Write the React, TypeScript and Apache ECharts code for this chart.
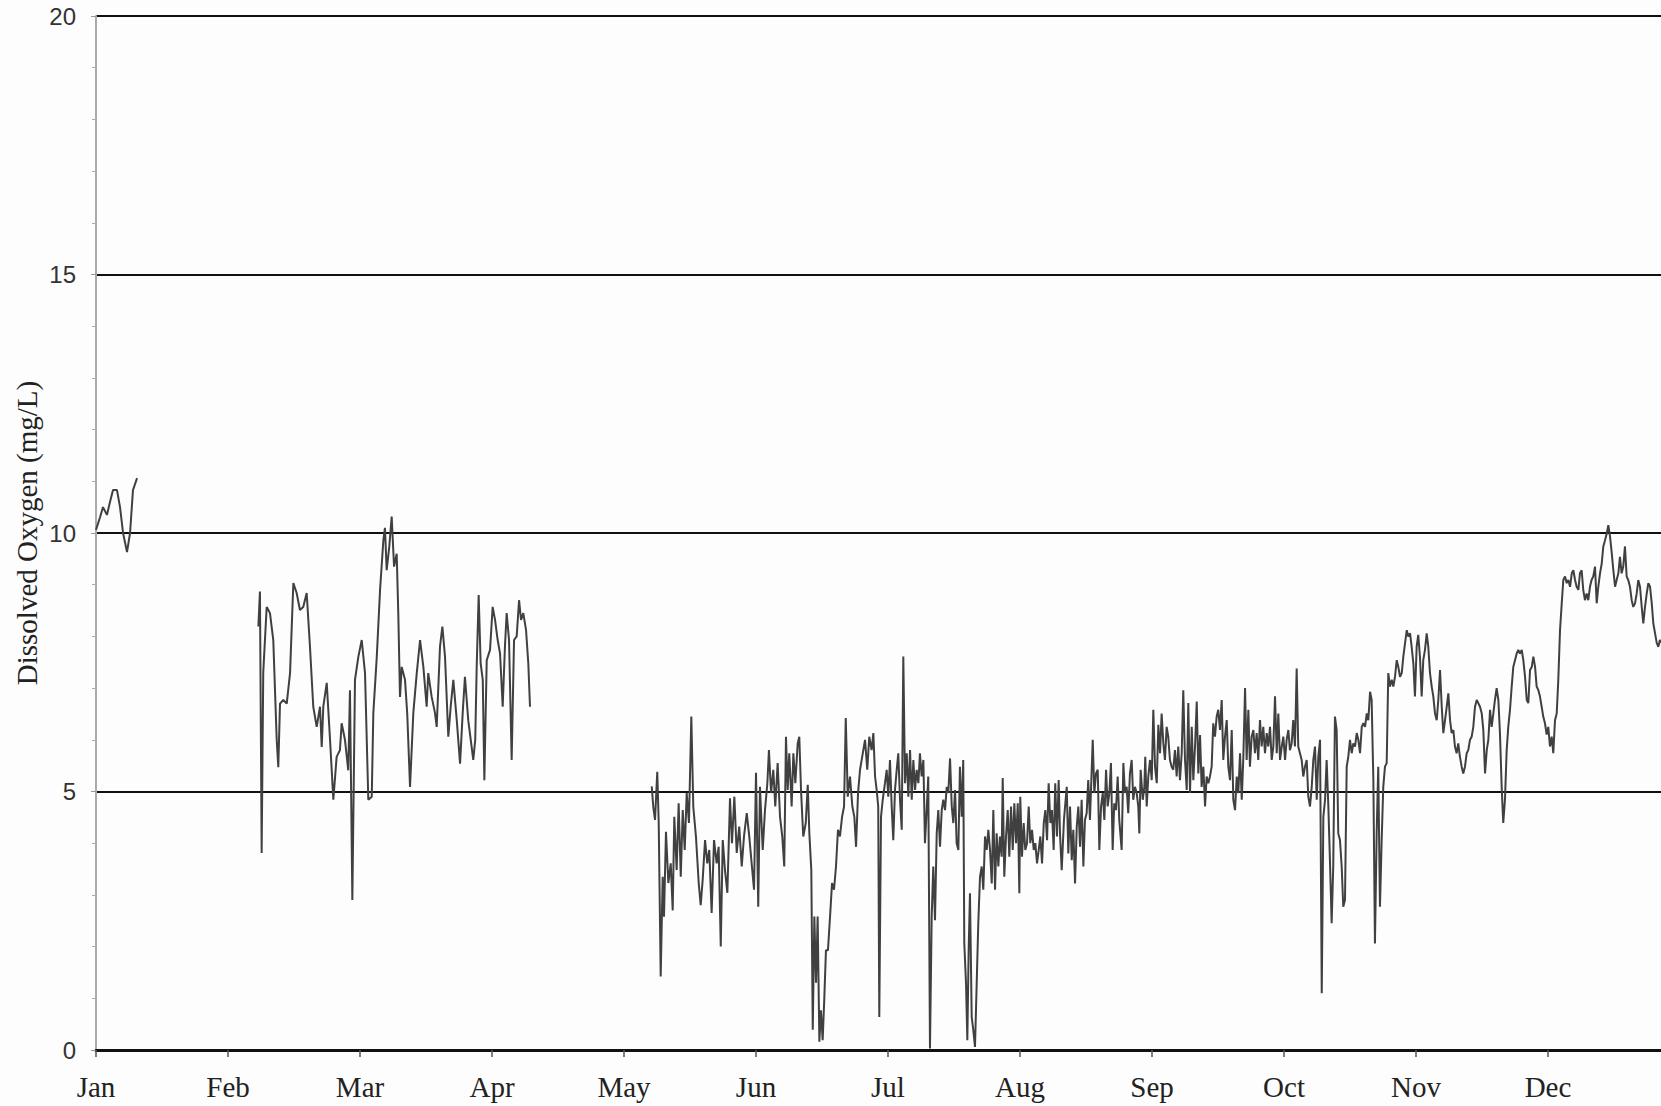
import React, { useEffect, useRef } from "react";
import * as echarts from "echarts";

// x = position in months from Jan 1 (axis ticks are evenly spaced month starts)
const monthLabels = ["Jan", "Feb", "Mar", "Apr", "May", "Jun", "Jul", "Aug", "Sep", "Oct", "Nov", "Dec"];

const janSegment: [number, number][] = [
  [0.0, 10.06], [0.03, 10.3], [0.053, 10.5], [0.083, 10.35], [0.106, 10.6], [0.129, 10.83], [0.159, 10.83],
  [0.182, 10.5], [0.205, 10.0], [0.235, 9.63], [0.258, 10.0], [0.28, 10.83], [0.311, 11.06],
];

const febAprSegment: [number, number][] = [
  [1.23, 8.19], [1.242, 8.87], [1.255, 3.81], [1.267, 7.3], [1.293, 8.57], [1.318, 8.45], [1.343, 7.93], [1.369, 6.0],
  [1.381, 5.47], [1.394, 6.7], [1.419, 6.77], [1.445, 6.7], [1.47, 7.29], [1.495, 9.03], [1.52, 8.84], [1.545, 8.51],
  [1.57, 8.57], [1.596, 8.84], [1.621, 7.8], [1.646, 6.64], [1.672, 6.25], [1.697, 6.64], [1.71, 5.86], [1.722, 6.64],
  [1.748, 7.1], [1.773, 6.0], [1.798, 4.84], [1.823, 5.67], [1.848, 5.8], [1.861, 6.32], [1.886, 6.0], [1.911, 5.41],
  [1.924, 6.96], [1.942, 2.9], [1.962, 7.16], [1.987, 7.6], [2.013, 7.93], [2.038, 7.29], [2.063, 4.84], [2.089, 4.9],
  [2.101, 6.52], [2.127, 7.6], [2.152, 8.9], [2.177, 9.86], [2.189, 10.1], [2.202, 9.28], [2.222, 9.74], [2.24, 10.32],
  [2.258, 9.35], [2.278, 9.6], [2.29, 8.45], [2.303, 6.83], [2.316, 7.41], [2.341, 7.16], [2.358, 6.5], [2.379, 5.09],
  [2.404, 6.52], [2.43, 7.29], [2.455, 7.93], [2.48, 7.41], [2.505, 6.64], [2.517, 7.29], [2.543, 6.83], [2.568, 6.52],
  [2.581, 6.25], [2.606, 7.8], [2.624, 8.19], [2.644, 7.61], [2.669, 6.06], [2.687, 6.64], [2.707, 7.16], [2.733, 6.38],
  [2.758, 5.54], [2.778, 6.52], [2.795, 7.22], [2.82, 6.38], [2.839, 6.0], [2.858, 5.61], [2.873, 6.0], [2.884, 7.41],
  [2.899, 8.8], [2.914, 7.48], [2.93, 7.16], [2.942, 5.22], [2.96, 7.54], [2.985, 7.74], [3.005, 8.57], [3.023, 8.32],
  [3.043, 7.93], [3.061, 7.67], [3.081, 6.64], [3.098, 7.8], [3.111, 8.45], [3.129, 7.93], [3.149, 5.61], [3.167, 7.93],
  [3.187, 8.0], [3.205, 8.7], [3.22, 8.32], [3.237, 8.45], [3.258, 8.12], [3.275, 7.48], [3.288, 6.64],
];

const mayDecSegment: [number, number][] = [
  [4.21, 5.1], [4.222, 4.7], [4.235, 4.45], [4.252, 5.38], [4.263, 4.39], [4.278, 1.42], [4.293, 3.35], [4.303, 2.58],
  [4.318, 4.22], [4.336, 3.23], [4.354, 3.61], [4.369, 2.7], [4.381, 4.51], [4.399, 3.48], [4.414, 4.77], [4.43, 3.35],
  [4.445, 4.64], [4.46, 3.87], [4.475, 4.97], [4.492, 4.39], [4.51, 6.45], [4.525, 4.7], [4.545, 4.13], [4.566, 3.23],
  [4.581, 2.8], [4.596, 3.29], [4.614, 4.06], [4.631, 3.61], [4.646, 3.87], [4.664, 2.65], [4.682, 4.06], [4.702, 3.61],
  [4.717, 3.93], [4.733, 2.0], [4.748, 4.06], [4.765, 3.48], [4.783, 3.04], [4.803, 4.87], [4.818, 4.0], [4.836, 4.9],
  [4.854, 3.81], [4.873, 4.32], [4.892, 3.55], [4.909, 4.13], [4.93, 4.58], [4.949, 4.13], [4.967, 3.61], [4.985, 3.1],
  [5.0, 5.36], [5.017, 2.77], [5.03, 5.09], [5.051, 3.87], [5.068, 4.64], [5.086, 5.16], [5.098, 5.8], [5.114, 4.97],
  [5.131, 5.42], [5.146, 4.71], [5.164, 5.55], [5.182, 4.51], [5.199, 4.13], [5.214, 3.55], [5.227, 6.06], [5.24, 5.03],
  [5.252, 5.74], [5.27, 4.71], [5.283, 5.74], [5.298, 5.16], [5.316, 5.93], [5.328, 6.06], [5.341, 5.03], [5.358, 4.13],
  [5.377, 4.39], [5.392, 5.13], [5.404, 4.2], [5.419, 3.48], [5.43, 0.39], [5.442, 2.58], [5.455, 1.3], [5.467, 2.58],
  [5.48, 0.16], [5.492, 0.77], [5.505, 0.19], [5.517, 0.97], [5.53, 1.93], [5.545, 1.93], [5.561, 2.58], [5.576, 3.23],
  [5.591, 3.1], [5.606, 3.55], [5.621, 4.26], [5.636, 4.13], [5.652, 4.51], [5.667, 4.71], [5.68, 6.42], [5.695, 4.9],
  [5.712, 5.29], [5.73, 4.71], [5.745, 4.51], [5.758, 3.93], [5.773, 4.97], [5.788, 5.42], [5.813, 5.8], [5.826, 6.0],
  [5.843, 5.42], [5.858, 6.06], [5.876, 5.8], [5.889, 6.13], [5.902, 5.29], [5.914, 5.03], [5.926, 4.71], [5.934, 0.64],
  [5.947, 4.51], [5.96, 4.84], [5.977, 5.16], [5.99, 5.42], [6.002, 4.9], [6.015, 5.61], [6.028, 4.71], [6.04, 4.06],
  [6.053, 5.03], [6.066, 5.42], [6.078, 5.74], [6.091, 4.84], [6.104, 4.26], [6.116, 7.61], [6.129, 5.16], [6.142, 5.74],
  [6.154, 4.9], [6.167, 5.8], [6.18, 4.84], [6.192, 5.61], [6.205, 5.03], [6.217, 5.42], [6.23, 5.16], [6.242, 5.74],
  [6.255, 5.29], [6.268, 5.61], [6.28, 4.0], [6.293, 4.64], [6.305, 5.29], [6.318, 0.03], [6.331, 2.58], [6.343, 3.55],
  [6.356, 2.51], [6.369, 4.19], [6.381, 4.64], [6.394, 3.93], [6.407, 4.64], [6.419, 4.84], [6.432, 4.64], [6.445, 5.09],
  [6.457, 4.97], [6.47, 5.64], [6.483, 4.71], [6.495, 4.39], [6.508, 5.03], [6.52, 4.0], [6.533, 3.87], [6.545, 5.48],
  [6.558, 4.51], [6.57, 5.61], [6.578, 2.06], [6.591, 1.29], [6.601, 0.19], [6.611, 1.93], [6.621, 3.03], [6.634, 0.64],
  [6.646, 0.39], [6.659, 0.06], [6.672, 1.29], [6.684, 2.45], [6.697, 3.35], [6.71, 3.55], [6.722, 3.1], [6.735, 4.13],
  [6.748, 3.87], [6.76, 4.26], [6.773, 3.87], [6.786, 3.22], [6.798, 4.64], [6.811, 3.1], [6.823, 4.19], [6.836, 3.55],
  [6.848, 4.13], [6.861, 3.74], [6.869, 5.26], [6.881, 3.35], [6.894, 4.13], [6.907, 4.64], [6.919, 3.74], [6.932, 4.71],
  [6.945, 3.87], [6.957, 4.77], [6.97, 4.0], [6.983, 4.77], [6.995, 3.03], [7.002, 4.9], [7.015, 3.74], [7.028, 4.39],
  [7.04, 3.87], [7.053, 4.0], [7.066, 4.71], [7.078, 4.0], [7.091, 4.26], [7.104, 3.87], [7.116, 4.0], [7.129, 3.61],
  [7.142, 3.87], [7.154, 4.13], [7.167, 3.61], [7.18, 4.39], [7.192, 4.64], [7.205, 4.06], [7.217, 5.16], [7.23, 4.39],
  [7.242, 4.64], [7.255, 3.87], [7.267, 5.16], [7.28, 4.13], [7.293, 5.22], [7.303, 4.19], [7.316, 3.48], [7.333, 4.45],
  [7.354, 5.09], [7.366, 3.8], [7.379, 4.71], [7.392, 3.67], [7.404, 4.26], [7.417, 3.22], [7.43, 4.32], [7.442, 4.71],
  [7.455, 3.93], [7.467, 4.84], [7.48, 3.55], [7.492, 4.45], [7.505, 4.58], [7.517, 5.22], [7.53, 4.45], [7.551, 6.0],
  [7.563, 4.97], [7.576, 5.35], [7.589, 5.42], [7.601, 3.87], [7.614, 4.71], [7.627, 4.97], [7.639, 4.45], [7.652, 5.42],
  [7.664, 4.71], [7.677, 4.97], [7.689, 5.55], [7.702, 3.87], [7.714, 4.77], [7.727, 4.64], [7.74, 5.29], [7.752, 4.45],
  [7.77, 3.87], [7.783, 5.55], [7.795, 4.97], [7.808, 5.09], [7.82, 4.58], [7.833, 5.35], [7.846, 5.61], [7.858, 4.84],
  [7.871, 5.09], [7.884, 4.97], [7.896, 4.71], [7.904, 4.19], [7.914, 5.42], [7.93, 4.84], [7.942, 5.09], [7.949, 5.67],
  [7.96, 4.71], [7.972, 5.29], [7.985, 5.61], [7.998, 5.22], [8.01, 6.58], [8.023, 5.48], [8.036, 5.16], [8.048, 6.29],
  [8.061, 5.74], [8.073, 6.51], [8.086, 5.93], [8.098, 5.61], [8.111, 6.25], [8.123, 6.06], [8.136, 5.61], [8.149, 5.48],
  [8.161, 5.42], [8.174, 5.8], [8.187, 5.29], [8.199, 5.87], [8.212, 5.22], [8.225, 5.74], [8.237, 6.96], [8.25, 5.61],
  [8.263, 5.03], [8.275, 6.71], [8.288, 4.97], [8.301, 6.25], [8.313, 5.22], [8.326, 5.87], [8.339, 6.74], [8.351, 5.35],
  [8.364, 6.09], [8.376, 5.09], [8.389, 5.48], [8.402, 4.71], [8.414, 5.29], [8.427, 5.16], [8.439, 5.29], [8.452, 5.48],
  [8.464, 6.32], [8.477, 6.06], [8.49, 6.45], [8.502, 6.58], [8.515, 6.19], [8.528, 6.77], [8.54, 5.61], [8.553, 6.06],
  [8.566, 6.38], [8.578, 5.48], [8.591, 5.22], [8.604, 6.19], [8.616, 4.84], [8.629, 4.64], [8.642, 5.29], [8.654, 4.97],
  [8.667, 5.74], [8.68, 4.84], [8.692, 5.67], [8.705, 7.0], [8.717, 5.61], [8.73, 6.58], [8.742, 5.48], [8.755, 6.06],
  [8.768, 6.19], [8.78, 5.74], [8.793, 6.13], [8.805, 5.61], [8.818, 6.38], [8.831, 5.87], [8.843, 6.25], [8.856, 5.74],
  [8.869, 6.13], [8.881, 5.87], [8.894, 6.25], [8.907, 5.61], [8.919, 5.87], [8.932, 6.84], [8.945, 5.74], [8.957, 6.51],
  [8.97, 5.61], [8.983, 5.87], [8.995, 6.06], [9.008, 5.61], [9.02, 6.0], [9.033, 6.19], [9.045, 5.8], [9.058, 5.93],
  [9.07, 6.38], [9.083, 5.87], [9.096, 7.38], [9.108, 5.87], [9.121, 5.74], [9.134, 5.61], [9.146, 5.29], [9.159, 5.48],
  [9.172, 5.61], [9.184, 4.9], [9.197, 4.71], [9.21, 5.09], [9.222, 5.61], [9.235, 5.87], [9.248, 4.84], [9.26, 5.67],
  [9.273, 6.0], [9.286, 1.1], [9.298, 4.51], [9.311, 4.84], [9.323, 5.61], [9.336, 4.71], [9.348, 3.67], [9.361, 2.45],
  [9.373, 3.55], [9.386, 6.45], [9.399, 6.19], [9.411, 4.19], [9.424, 4.06], [9.437, 3.55], [9.449, 2.77], [9.462, 2.9],
  [9.475, 5.48], [9.487, 5.67], [9.5, 6.0], [9.513, 5.74], [9.525, 5.93], [9.538, 5.87], [9.551, 6.13], [9.563, 6.0],
  [9.576, 5.74], [9.589, 6.25], [9.601, 6.32], [9.614, 6.25], [9.627, 6.51], [9.639, 6.38], [9.652, 6.93], [9.664, 6.77],
  [9.677, 5.22], [9.689, 2.06], [9.702, 4.19], [9.714, 5.48], [9.727, 2.77], [9.74, 4.06], [9.752, 5.09], [9.765, 5.48],
  [9.778, 5.55], [9.79, 7.29], [9.803, 7.03], [9.816, 7.16], [9.828, 7.03], [9.841, 7.22], [9.854, 7.54], [9.866, 7.41],
  [9.879, 7.22], [9.892, 7.29], [9.904, 7.61], [9.917, 7.87], [9.93, 8.12], [9.942, 8.0], [9.955, 8.06], [9.967, 7.8],
  [9.98, 7.48], [9.992, 6.84], [10.005, 7.8], [10.017, 8.03], [10.03, 7.61], [10.043, 6.84], [10.055, 7.54], [10.068, 7.74],
  [10.081, 8.06], [10.093, 7.8], [10.106, 7.29], [10.119, 7.03], [10.131, 6.84], [10.144, 6.51], [10.157, 6.38], [10.169, 6.77],
  [10.182, 7.35], [10.195, 6.64], [10.207, 6.13], [10.22, 6.38], [10.233, 6.64], [10.245, 6.9], [10.258, 6.38], [10.27, 6.13],
  [10.283, 6.19], [10.295, 5.87], [10.308, 5.74], [10.32, 5.93], [10.333, 5.67], [10.346, 5.48], [10.358, 5.35], [10.371, 5.48],
  [10.384, 5.74], [10.396, 5.8], [10.409, 6.0], [10.422, 6.06], [10.434, 6.25], [10.447, 6.64], [10.46, 6.77], [10.472, 6.71],
  [10.485, 6.64], [10.498, 6.51], [10.51, 6.19], [10.523, 5.35], [10.536, 5.8], [10.548, 6.0], [10.561, 6.58], [10.573, 6.25],
  [10.586, 6.51], [10.598, 6.77], [10.611, 7.0], [10.624, 6.77], [10.636, 6.13], [10.649, 5.09], [10.661, 4.39], [10.674, 4.84],
  [10.687, 5.8], [10.699, 6.25], [10.712, 6.58], [10.725, 7.03], [10.737, 7.41], [10.75, 7.54], [10.763, 7.67], [10.775, 7.74],
  [10.788, 7.67], [10.801, 7.74], [10.813, 7.54], [10.826, 7.22], [10.839, 6.77], [10.851, 6.71], [10.864, 7.35], [10.877, 7.41],
  [10.889, 7.61], [10.902, 7.41], [10.914, 7.03], [10.927, 6.96], [10.939, 6.84], [10.952, 6.64], [10.964, 6.45], [10.977, 6.32],
  [10.99, 6.1], [11.002, 6.25], [11.015, 5.87], [11.028, 6.06], [11.04, 5.74], [11.053, 6.38], [11.066, 6.51], [11.078, 7.16],
  [11.091, 8.12], [11.104, 8.64], [11.116, 9.09], [11.129, 9.16], [11.142, 9.03], [11.154, 9.09], [11.167, 8.96], [11.18, 9.22],
  [11.192, 9.28], [11.205, 9.09], [11.217, 8.96], [11.23, 8.9], [11.242, 9.22], [11.255, 9.28], [11.267, 8.9], [11.28, 8.7],
  [11.293, 8.83], [11.305, 8.7], [11.318, 8.96], [11.33, 9.09], [11.343, 9.16], [11.356, 9.35], [11.369, 8.64], [11.381, 8.96],
  [11.394, 9.22], [11.407, 9.41], [11.419, 9.74], [11.432, 9.86], [11.445, 9.99], [11.457, 10.15], [11.47, 9.93], [11.483, 9.61],
  [11.495, 9.28], [11.508, 8.96], [11.52, 9.09], [11.533, 9.22], [11.545, 9.54], [11.558, 9.22], [11.57, 9.35], [11.583, 9.74],
  [11.596, 9.16], [11.608, 9.09], [11.621, 8.96], [11.634, 8.7], [11.646, 8.57], [11.659, 8.64], [11.672, 8.83], [11.684, 9.09],
  [11.697, 8.96], [11.71, 8.57], [11.722, 8.25], [11.735, 8.57], [11.748, 8.83], [11.76, 9.03], [11.773, 8.96], [11.786, 8.64],
  [11.798, 8.25], [11.811, 8.06], [11.824, 7.87], [11.836, 7.8], [11.848, 7.93], [11.87, 7.85], [11.9, 7.9],
];

const yTicks = { min: 0, max: 20, interval: 5 };
const xTicks = { min: 0, max: 12, interval: 1 };

export default function App() {
  const ref = useRef<HTMLDivElement>(null);
  useEffect(() => {
    if (!ref.current) return;
    const chart = echarts.init(ref.current, null, { renderer: "svg" });
    const lineStyle = { color: "#404040", width: 2 };
    const mk = (data: [number, number][]) => ({
      type: "line",
      data,
      showSymbol: false,
      symbol: "none",
      lineStyle,
      silent: true,
    });
    chart.setOption({
      animation: false,
      backgroundColor: "#fdfdfd",
      grid: { left: 96, right: 40, top: 16, bottom: 56, containLabel: false },
      xAxis: {
        type: "value",
        min: xTicks.min,
        max: xTicks.max,
        interval: xTicks.interval,
        axisLine: { show: true, onZero: false, lineStyle: { color: "#111", width: 3 } },
        axisTick: { show: true, length: 7, lineStyle: { color: "#555", width: 1.5 } },
        splitLine: { show: false },
        axisLabel: {
          margin: 22,
          fontFamily: "Liberation Serif, Times New Roman, serif",
          fontSize: 29,
          color: "#222",
          formatter: (v: number) => monthLabels[Math.round(v)] ?? "",
        },
      },
      yAxis: {
        type: "value",
        min: yTicks.min,
        max: yTicks.max,
        interval: yTicks.interval,
        name: "Dissolved Oxygen (mg/L)",
        nameLocation: "middle",
        nameGap: 55,
        nameMoveOverlap: false,
        nameTextStyle: {
          fontFamily: "Liberation Serif, Times New Roman, serif",
          fontSize: 29,
          color: "#222",
        },
        axisLine: { show: true, lineStyle: { color: "#aaa", width: 2 } },
        axisTick: { show: true, length: 5, lineStyle: { color: "#999", width: 1 } },
        minorTick: { show: true, splitNumber: 5, length: 4, lineStyle: { color: "#aaa", width: 1 } },
        splitLine: { show: true, lineStyle: { color: "#111", width: 2 } },
        axisLabel: {
          margin: 20,
          fontFamily: "Liberation Sans, Arial, sans-serif",
          fontSize: 24,
          color: "#333",
        },
      },
      series: [mk(janSegment), mk(febAprSegment), mk(mayDecSegment)],
    });
    return () => chart.dispose();
  }, []);
  return (
    <div style={{ position: "fixed", left: 0, top: 0, width: 1661, height: 1106, overflow: "hidden", background: "#fdfdfd" }}>
      <div ref={ref} style={{ width: 1720, height: 1106 }} />
    </div>
  );
}
